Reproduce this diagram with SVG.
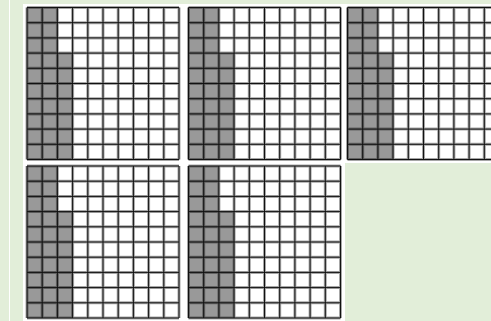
<svg xmlns="http://www.w3.org/2000/svg" xmlns:xlink="http://www.w3.org/1999/xlink" width="491" height="321" viewBox="0 0 491 321">
<style>
.bg{fill:#e2eed9}
.panel{fill:#ffffff}
.shade{fill:#999999}
.halo{fill:none;stroke:#000;stroke-opacity:0.35;stroke-width:3}
.line{fill:none;stroke:#111;stroke-width:1}
</style>
<defs>
<g id="grid">
<rect x="0" y="0" width="152" height="152" fill="#fff"/>
<path class="shade" d="M0 0H30.4V45.6H45.6V152H0Z"/>
<path id="gl" class="halo" d="M0 0V152M15.2 0V152M30.4 0V152M45.6 0V152M60.8 0V152M76 0V152M91.2 0V152M106.4 0V152M121.6 0V152M136.8 0V152M152 0V152M0 0H152M0 15.2H152M0 30.4H152M0 45.6H152M0 60.8H152M0 76H152M0 91.2H152M0 106.4H152M0 121.6H152M0 136.8H152M0 152H152"/>
<path class="line" d="M0 0V152M15.2 0V152M30.4 0V152M45.6 0V152M60.8 0V152M76 0V152M91.2 0V152M106.4 0V152M121.6 0V152M136.8 0V152M152 0V152M0 0H152M0 15.2H152M0 30.4H152M0 45.6H152M0 60.8H152M0 76H152M0 91.2H152M0 106.4H152M0 121.6H152M0 136.8H152M0 152H152"/>
</g>
</defs>
<rect class="bg" x="0" y="0" width="491" height="321"/>
<rect class="panel" x="9" y="0" width="1" height="321"/>
<rect class="panel" x="23" y="4" width="468" height="159"/>
<rect class="panel" x="23" y="163" width="322" height="158"/>
<g id="grid1"><use xlink:href="#grid" x="27" y="7.5"/></g>
<g id="grid2"><use xlink:href="#grid" x="188.5" y="7.5"/></g>
<g id="grid3"><use xlink:href="#grid" x="347.5" y="7.5"/></g>
<g id="grid4"><use xlink:href="#grid" x="27" y="166"/></g>
<g id="grid5"><use xlink:href="#grid" x="188.5" y="166"/></g>
<g id="connectors"></g>
</svg>
